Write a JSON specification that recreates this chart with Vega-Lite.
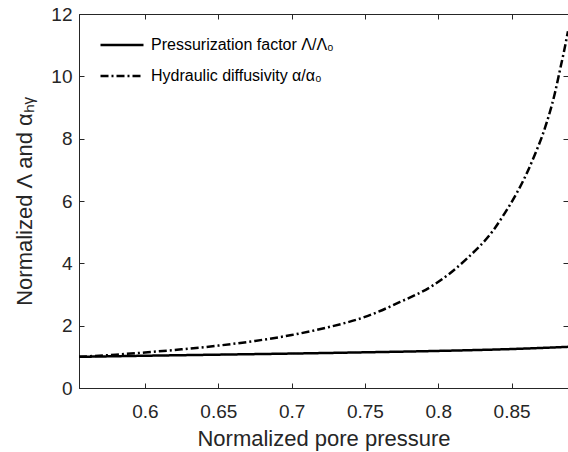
{
  "$schema": "https://vega.github.io/schema/vega-lite/v6.json",
  "autosize": "none",
  "padding": {"left": 79, "top": 14, "right": 0, "bottom": 64},
  "width": 489,
  "height": 374,
  "background": "white",
  "config": {
    "font": "Liberation Sans",
    "view": {"stroke": "#262626", "strokeWidth": 1},
    "axis": {
      "domainColor": "#262626",
      "tickColor": "#262626",
      "labelColor": "#262626",
      "titleColor": "#262626",
      "labelFont": "Liberation Sans",
      "titleFont": "Liberation Sans",
      "labelFontSize": 19,
      "titleFontSize": 22,
      "titleFontWeight": "normal",
      "gridColor": "#262626",
      "gridOpacity": 1,
      "gridWidth": 1
    }
  },
  "data": {
    "values": [
      {"p": 0.555, "v": 1.0, "series": "Pressurization factor Λ/Λ₀"},
      {"p": 0.6, "v": 1.035, "series": "Pressurization factor Λ/Λ₀"},
      {"p": 0.65, "v": 1.07, "series": "Pressurization factor Λ/Λ₀"},
      {"p": 0.7, "v": 1.105, "series": "Pressurization factor Λ/Λ₀"},
      {"p": 0.75, "v": 1.145, "series": "Pressurization factor Λ/Λ₀"},
      {"p": 0.8, "v": 1.19, "series": "Pressurization factor Λ/Λ₀"},
      {"p": 0.85, "v": 1.25, "series": "Pressurization factor Λ/Λ₀"},
      {"p": 0.8885, "v": 1.32, "series": "Pressurization factor Λ/Λ₀"},
      {"p": 0.555, "v": 1.0, "series": "Hydraulic diffusivity α/α₀"},
      {"p": 0.58, "v": 1.07, "series": "Hydraulic diffusivity α/α₀"},
      {"p": 0.6, "v": 1.14, "series": "Hydraulic diffusivity α/α₀"},
      {"p": 0.625, "v": 1.24, "series": "Hydraulic diffusivity α/α₀"},
      {"p": 0.65, "v": 1.36, "series": "Hydraulic diffusivity α/α₀"},
      {"p": 0.675, "v": 1.51, "series": "Hydraulic diffusivity α/α₀"},
      {"p": 0.7, "v": 1.7, "series": "Hydraulic diffusivity α/α₀"},
      {"p": 0.725, "v": 1.95, "series": "Hydraulic diffusivity α/α₀"},
      {"p": 0.75, "v": 2.28, "series": "Hydraulic diffusivity α/α₀"},
      {"p": 0.774, "v": 2.76, "series": "Hydraulic diffusivity α/α₀"},
      {"p": 0.7967, "v": 3.3, "series": "Hydraulic diffusivity α/α₀"},
      {"p": 0.8195, "v": 4.15, "series": "Hydraulic diffusivity α/α₀"},
      {"p": 0.8377, "v": 5.07, "series": "Hydraulic diffusivity α/α₀"},
      {"p": 0.8455, "v": 5.62, "series": "Hydraulic diffusivity α/α₀"},
      {"p": 0.8535, "v": 6.25, "series": "Hydraulic diffusivity α/α₀"},
      {"p": 0.86, "v": 6.85, "series": "Hydraulic diffusivity α/α₀"},
      {"p": 0.866, "v": 7.5, "series": "Hydraulic diffusivity α/α₀"},
      {"p": 0.871, "v": 8.1, "series": "Hydraulic diffusivity α/α₀"},
      {"p": 0.8755, "v": 8.75, "series": "Hydraulic diffusivity α/α₀"},
      {"p": 0.8795, "v": 9.45, "series": "Hydraulic diffusivity α/α₀"},
      {"p": 0.883, "v": 10.2, "series": "Hydraulic diffusivity α/α₀"},
      {"p": 0.886, "v": 10.85, "series": "Hydraulic diffusivity α/α₀"},
      {"p": 0.8885, "v": 11.45, "series": "Hydraulic diffusivity α/α₀"}
    ]
  },
  "mark": {"type": "line", "color": "black", "strokeWidth": 2.5, "clip": true, "interpolate": "monotone"},
  "encoding": {
    "x": {
      "field": "p", "type": "quantitative",
      "scale": {"domain": [0.555, 0.8885], "nice": false, "zero": false},
      "axis": {"title": "Normalized pore pressure", "values": [0.6, 0.65, 0.7, 0.75, 0.8, 0.85], "format": "~g", "tickSize": 5, "tickOpacity": 0, "labelPadding": 9, "titlePadding": 7, "grid": true, "gridDash": [5, 364, 5, 1000]}
    },
    "y": {
      "field": "v", "type": "quantitative",
      "scale": {"domain": [0, 12], "nice": false},
      "axis": {"title": "Normalized Λ and αₕᵧ", "values": [0, 2, 4, 6, 8, 10, 12], "tickSize": 5, "tickOpacity": 0, "labelPadding": 2, "titlePadding": 14, "grid": true, "gridDash": [5, 479, 5, 1000]}
    },
    "strokeDash": {
      "field": "series", "type": "nominal",
      "scale": {"domain": ["Pressurization factor Λ/Λ₀", "Hydraulic diffusivity α/α₀"], "range": [[1, 0], [8, 3, 2, 3]]},
      "legend": {
        "title": null, "orient": "none", "legendX": 20, "legendY": 8,
        "symbolType": "stroke", "symbolSize": 1849, "symbolStrokeWidth": 2.5, "symbolStrokeColor": "black",
        "labelFontSize": 16, "labelFont": "Liberation Sans", "labelColor": "black", "labelOffset": 6, "labelLimit": 0,
        "rowPadding": -12
      }
    }
  }
}
